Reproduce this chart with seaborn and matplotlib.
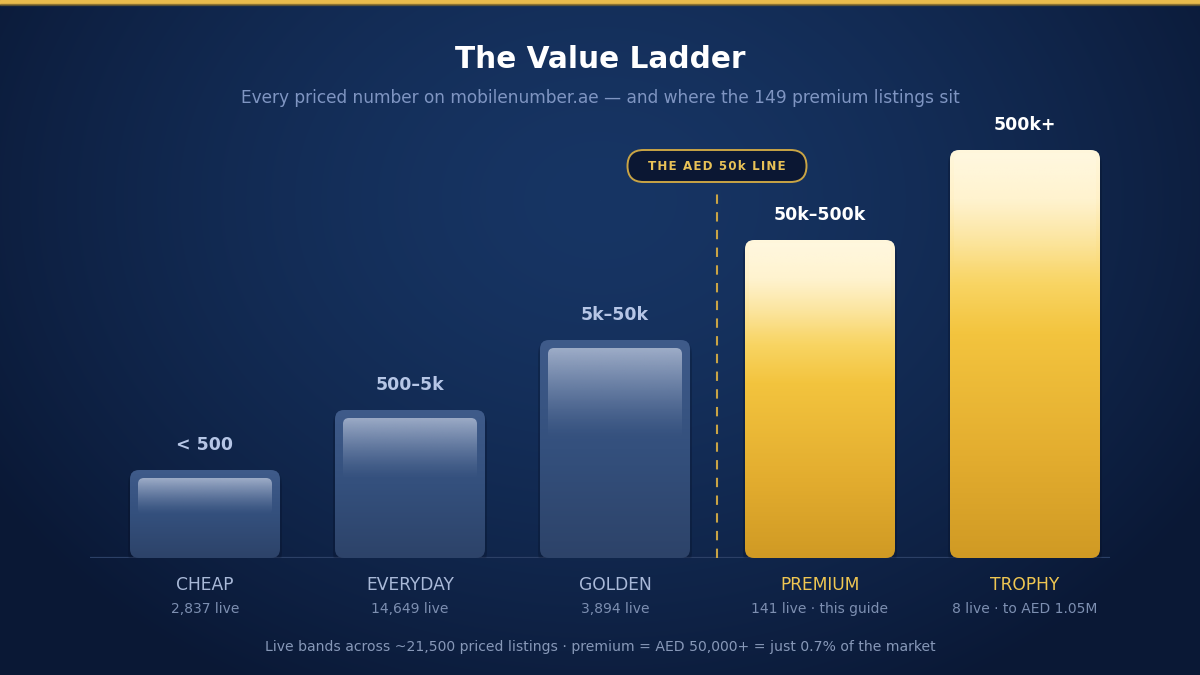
import numpy as np
import pandas as pd
import matplotlib
matplotlib.use("Agg")
import matplotlib.pyplot as plt
import seaborn as sns
from matplotlib.patches import FancyBboxPatch
from matplotlib.colors import LinearSegmentedColormap, to_rgb

# ---------------- data ----------------
bands = ["< 500", "500\u20135k", "5k\u201350k", "50k\u2013500k", "500k+"]
tiers = ["CHEAP", "EVERYDAY", "GOLDEN", "PREMIUM", "TROPHY"]
live_notes = ["2,837 live", "14,649 live", "3,894 live",
              "141 live \u00b7 this guide", "8 live \u00b7 to AED 1.05M"]
rung_height = [88, 148, 218, 318, 408]   # visual ladder height of each rung
is_premium = [False, False, False, True, True]

title = "The Value Ladder"
subtitle = "Every priced number on mobilenumber.ae \u2014 and where the 149 premium listings sit"
footer = ("Live bands across ~21,500 priced listings \u00b7 premium = AED 50,000+ "
          "= just 0.7% of the market")
line_label = "THE AED 50k LINE"

df = pd.DataFrame({"band": bands, "tier": tiers, "height": rung_height})

# ---------------- figure ----------------
W, H = 1200, 675
sns.set_theme(style="white")
plt.rcParams["font.family"] = ["DejaVu Sans"]
fig = plt.figure(figsize=(12, 6.75), dpi=100)

# background radial gradient
bg = fig.add_axes([0, 0, 1, 1])
yy, xx = np.mgrid[0:H, 0:W]
r = np.sqrt(((xx - 600) / 720.0) ** 2 + ((yy - 200) / 560.0) ** 2)
r = np.clip(r, 0, 1)
c_in = np.array(to_rgb("#173564"))
c_out = np.array(to_rgb("#0a1835"))
t = r[..., None] ** 1.5
img = c_in * (1 - t) + c_out * t
bg.imshow(img, extent=(0, W, H, 0), aspect="auto", zorder=0)
bg.set_xlim(0, W)
bg.set_ylim(H, 0)
bg.axis("off")
# gold top rule
bg.axhspan(0, 3.5, color="#e9bb4c", zorder=2)
bg.axhspan(3.5, 5, color="#6b5a2a", alpha=0.6, zorder=2)

# ---------------- bar axes ----------------
base_px = 558
top_px = 100
unit = 205.0  # px per category
left_px, right_px = 90, 1110
first_center = 205
ax = fig.add_axes([left_px / W, (H - base_px) / H,
                   (right_px - left_px) / W, (base_px - top_px) / H])
ax.patch.set_alpha(0)
sns.barplot(data=df, x="tier", y="height", ax=ax, width=150 / unit,
            color="#3a5583", saturation=1, zorder=3)
xlim = ((left_px - first_center) / unit, (right_px - first_center) / unit)
ylim = (0, base_px - top_px)
ax.set_xlim(*xlim)
ax.set_ylim(*ylim)
ax.axis("off")

blue_body = LinearSegmentedColormap.from_list("bb", ["#3f5b8a", "#34507d", "#2d4369"])
gold_body = LinearSegmentedColormap.from_list(
    "gb", [(0.0, "#fff7dc"), (0.12, "#fff1c8"), (0.33, "#f8d462"),
           (0.45, "#f3c43e"), (0.75, "#e3ad2f"), (1.0, "#d09a24")])

asp = unit / 1.0  # px per x-unit / px per y-unit
rad_px = 9

def vgrad(cmap, n=256):
    g = np.linspace(0, 1, n)[:, None]
    return cmap(g)

for i, p in enumerate(list(ax.patches)):
    x0, w, h = p.get_x(), p.get_width(), p.get_height()
    p.set_visible(False)
    # soft shadow
    for k, a in [(7, 0.10), (3, 0.16)]:
        sh = FancyBboxPatch((x0 - 2 / unit, -k), w + 4 / unit, h,
                            boxstyle=f"round,pad=0,rounding_size={rad_px / unit}",
                            mutation_aspect=asp, fc="#050d20", ec="none",
                            alpha=a, zorder=2)
        ax.add_patch(sh)
    box = FancyBboxPatch((x0, 0), w, h,
                         boxstyle=f"round,pad=0,rounding_size={rad_px / unit}",
                         mutation_aspect=asp, fc="none", ec="none", zorder=3)
    ax.add_patch(box)
    cmap = gold_body if is_premium[i] else blue_body
    # row 0 (top colour) drawn at the top of the bar
    im = ax.imshow(vgrad(cmap), extent=(x0, x0 + w, 0, h), origin="upper",
                   aspect="auto", zorder=3, interpolation="bilinear")
    im.set_clip_path(box)

    n = 256
    g = np.linspace(0, 1, n)[:, None]
    rgba = np.zeros((n, 2, 4))
    if is_premium[i]:
        ix0 = x0 + 4 / unit
        iw = w - 8 / unit
        itop = h - 3
        hl_h = h - 6
        rgba[..., :3] = to_rgb("#fffbe8")
        rgba[..., 3] = np.clip(1 - g / 0.3, 0, 1) * 0.35
        rnd = 6
    else:
        inset = 8
        ix0 = x0 + inset / unit
        iw = w - 2 * inset / unit
        itop = h - inset
        hl_h = h * 0.42
        rgba[..., :3] = to_rgb("#a3b1cb")
        rgba[..., 3] = np.clip(1 - g, 0, 1) ** 1.4 * 0.95
        rnd = 6
    hl = FancyBboxPatch((ix0, itop - hl_h), iw, hl_h,
                        boxstyle=f"round,pad=0,rounding_size={rnd / unit}",
                        mutation_aspect=asp, fc="none", ec="none", zorder=4)
    ax.add_patch(hl)
    him = ax.imshow(rgba, extent=(ix0, ix0 + iw, itop - hl_h, itop),
                    origin="upper", aspect="auto", zorder=4,
                    interpolation="bilinear")
    him.set_clip_path(hl)

    cx = x0 + w / 2
    lab_col = "#ffffff" if is_premium[i] else "#b6c6e6"
    ax.annotate(bands[i], (cx, h), xytext=(0, 25), textcoords="offset pixels",
                ha="center", va="center", fontsize=12.5, fontweight="bold",
                color=lab_col, zorder=6)
    tier_col = "#efc652" if is_premium[i] else "#a9b9d8"
    ax.annotate(tiers[i], (cx, 0), xytext=(0, -27), textcoords="offset pixels",
                ha="center", va="center", fontsize=12.3, color=tier_col,
                annotation_clip=False)
    ax.annotate(live_notes[i], (cx, 0), xytext=(0, -51), textcoords="offset pixels",
                ha="center", va="center", fontsize=10, color="#7d8fb1",
                annotation_clip=False)

ax.set_xlim(*xlim)
ax.set_ylim(*ylim)

# baseline
ax.axhline(0, color="#2c4066", lw=1.6, zorder=1)

# 50k line
ax.plot([2.5, 2.5], [0, base_px - 187], color="#c9a445", lw=1.5,
        ls=(0, (4.5, 4)), zorder=2)

# pill label
pill_cx, pill_cy = 717, 166
pill_w, pill_h = 179, 32
pill = FancyBboxPatch((pill_cx - pill_w / 2, pill_cy - pill_h / 2), pill_w, pill_h,
                      boxstyle=f"round,pad=0,rounding_size={pill_h / 2}",
                      fc="#0b1733", ec="#c9a445", lw=1.4, zorder=5)
bg.add_patch(pill)
spaced = "\u200a".join(line_label)
bg.text(pill_cx, pill_cy + 0.5, spaced, ha="center", va="center", fontsize=8.6,
        fontweight="bold", color="#e9c257", zorder=6)

# titles
bg.text(600, 60, title, ha="center", va="center", fontsize=21.3,
        fontweight="bold", color="#ffffff", zorder=6)
bg.text(600, 98, subtitle, ha="center", va="center", fontsize=12.25,
        color="#7f95c2", zorder=6)
bg.text(600, 647, footer, ha="center", va="center", fontsize=10.1,
        color="#8798b8", zorder=6)

fig.savefig("out.png", dpi=100)
